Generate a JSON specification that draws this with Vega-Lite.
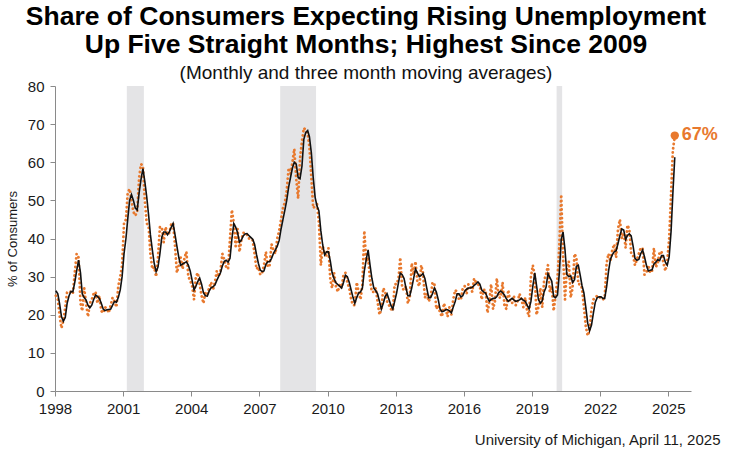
{
"$schema":"https://vega.github.io/schema/vega-lite/v6.json",
"width":636,"height":305,
"autosize":{"type":"none"},
"padding":{"left":55,"top":86,"right":39,"bottom":62},
"background":"white",
"config":{"font":"Liberation Sans","view":{"stroke":null},
 "axisY":{"values":[0,10,20,30,40,50,60,70,80],"labelFontSize":15,"labelColor":"#1a1a1a","labelPadding":6,"labelOverlap":false,"labelFlush":false,"domainColor":"#8a8a8a","tickColor":"#8a8a8a","tickSize":5,"grid":false,"titleFontSize":13,"titleFontWeight":"normal","titleColor":"#1a1a1a","titlePadding":8}},
"title":{"text":["Share of Consumers Expecting Rising Unemployment","Up Five Straight Months; Highest Since 2009"],"subtitle":"(Monthly and three month moving averages)","fontSize":26.5,"fontWeight":"bold","color":"#000000","lineHeight":28,"subtitleFontSize":19,"subtitleColor":"#111111","subtitlePadding":6,"anchor":"middle","dx":-7,"offset":-4},
"datasets":{
"rec":[{"s":"2001-03-01","e":"2001-11-30"},{"s":"2007-12-01","e":"2009-06-30"},{"s":"2020-02-01","e":"2020-04-30"}],
"last":[{"d":"2025-04-15","m":67,"label":"67%"}],
"s":[
{"d":"1998-01-15","m":25,"a":26.3},{"d":"1998-02-15","m":24,"a":25.5},{"d":"1998-03-15","m":20,"a":23},{"d":"1998-04-15","m":16.5,"a":19.5},{"d":"1998-05-15","m":18.5,"a":18.3},{"d":"1998-06-15","m":22,"a":19.3},{"d":"1998-07-15","m":26,"a":23},{"d":"1998-08-15","m":26,"a":25},{"d":"1998-09-15","m":26,"a":26.1},{"d":"1998-10-15","m":25.5,"a":26},{"d":"1998-11-15","m":31,"a":28.5},{"d":"1998-12-15","m":36,"a":31.5},
{"d":"1999-01-15","m":35,"a":34.3},{"d":"1999-02-15","m":23,"a":31},{"d":"1999-03-15","m":21,"a":25.5},{"d":"1999-04-15","m":27,"a":24.5},{"d":"1999-05-15","m":23,"a":23.9},{"d":"1999-06-15","m":19.5,"a":22.5},{"d":"1999-07-15","m":23,"a":21.8},{"d":"1999-08-15","m":24,"a":22.5},{"d":"1999-09-15","m":25.5,"a":24},{"d":"1999-10-15","m":26,"a":25.2},{"d":"1999-11-15","m":23,"a":24.8},{"d":"1999-12-15","m":25,"a":24.3},
{"d":"2000-01-15","m":21,"a":23},{"d":"2000-02-15","m":20.5,"a":21.5},{"d":"2000-03-15","m":22,"a":21.1},{"d":"2000-04-15","m":21.5,"a":21.3},{"d":"2000-05-15","m":20.5,"a":21.4},{"d":"2000-06-15","m":22.5,"a":21.5},{"d":"2000-07-15","m":24.5,"a":22.5},{"d":"2000-08-15","m":23.5,"a":23.5},{"d":"2000-09-15","m":22,"a":23.3},{"d":"2000-10-15","m":27.5,"a":24.5},{"d":"2000-11-15","m":30,"a":26.5},{"d":"2000-12-15","m":33,"a":30},
{"d":"2001-01-15","m":44,"a":36},{"d":"2001-02-15","m":45,"a":40},{"d":"2001-03-15","m":52,"a":45},{"d":"2001-04-15","m":53,"a":50},{"d":"2001-05-15","m":50,"a":51.5},{"d":"2001-06-15","m":47,"a":50},{"d":"2001-07-15","m":46,"a":48},{"d":"2001-08-15","m":47,"a":47.5},{"d":"2001-09-15","m":56,"a":52},{"d":"2001-10-15","m":59.5,"a":55.5},{"d":"2001-11-15","m":59,"a":58.3},{"d":"2001-12-15","m":50,"a":55},
{"d":"2002-01-15","m":44,"a":50.9},{"d":"2002-02-15","m":43,"a":46},{"d":"2002-03-15","m":36,"a":41},{"d":"2002-04-15","m":32,"a":37},{"d":"2002-05-15","m":32.5,"a":33.5},{"d":"2002-06-15","m":30,"a":31.3},{"d":"2002-07-15","m":35,"a":32.5},{"d":"2002-08-15","m":43,"a":36},{"d":"2002-09-15","m":43,"a":40.4},{"d":"2002-10-15","m":39,"a":41.7},{"d":"2002-11-15","m":43,"a":41.7},{"d":"2002-12-15","m":41,"a":41},
{"d":"2003-01-15","m":41.5,"a":41.8},{"d":"2003-02-15","m":44,"a":43},{"d":"2003-03-15","m":44,"a":43.9},{"d":"2003-04-15","m":38,"a":41},{"d":"2003-05-15","m":31,"a":38},{"d":"2003-06-15","m":33,"a":35},{"d":"2003-07-15","m":35,"a":33},{"d":"2003-08-15","m":32,"a":33.3},{"d":"2003-09-15","m":35,"a":33.6},{"d":"2003-10-15","m":36.5,"a":33.9},{"d":"2003-11-15","m":30,"a":33},{"d":"2003-12-15","m":29,"a":31.5},
{"d":"2004-01-15","m":27.5,"a":29},{"d":"2004-02-15","m":24,"a":26.5},{"d":"2004-03-15","m":30,"a":27.5},{"d":"2004-04-15","m":31,"a":28.7},{"d":"2004-05-15","m":28,"a":29.6},{"d":"2004-06-15","m":25,"a":28},{"d":"2004-07-15","m":23,"a":25.8},{"d":"2004-08-15","m":26,"a":25},{"d":"2004-09-15","m":25.5,"a":24.9},{"d":"2004-10-15","m":27,"a":26.2},{"d":"2004-11-15","m":28.5,"a":27.1},{"d":"2004-12-15","m":26.5,"a":27.3},
{"d":"2005-01-15","m":28.5,"a":27.8},{"d":"2005-02-15","m":31.5,"a":29},{"d":"2005-03-15","m":30,"a":30},{"d":"2005-04-15","m":31.5,"a":31},{"d":"2005-05-15","m":36,"a":32.8},{"d":"2005-06-15","m":34.5,"a":34},{"d":"2005-07-15","m":32.5,"a":34.3},{"d":"2005-08-15","m":32,"a":33.8},{"d":"2005-09-15","m":40,"a":34.8},{"d":"2005-10-15","m":47.5,"a":39.8},{"d":"2005-11-15","m":44,"a":43.9},{"d":"2005-12-15","m":38,"a":43},
{"d":"2006-01-15","m":42.5,"a":41.5},{"d":"2006-02-15","m":36.5,"a":39},{"d":"2006-03-15","m":39.5,"a":39.5},{"d":"2006-04-15","m":41.5,"a":40.7},{"d":"2006-05-15","m":41.5,"a":41.2},{"d":"2006-06-15","m":41,"a":41.3},{"d":"2006-07-15","m":40,"a":40.8},{"d":"2006-08-15","m":40,"a":40.3},{"d":"2006-09-15","m":39.5,"a":39.8},{"d":"2006-10-15","m":36,"a":38.5},{"d":"2006-11-15","m":32,"a":35.8},{"d":"2006-12-15","m":32.5,"a":33.5},
{"d":"2007-01-15","m":30.5,"a":31.7},{"d":"2007-02-15","m":31,"a":31.3},{"d":"2007-03-15","m":33,"a":31.5},{"d":"2007-04-15","m":36.5,"a":33.2},{"d":"2007-05-15","m":32.5,"a":33.9},{"d":"2007-06-15","m":33,"a":33.9},{"d":"2007-07-15","m":38.5,"a":34.8},{"d":"2007-08-15","m":37,"a":36.1},{"d":"2007-09-15","m":36,"a":37},{"d":"2007-10-15","m":40,"a":38},{"d":"2007-11-15","m":42,"a":39.5},{"d":"2007-12-15","m":45,"a":42.5},
{"d":"2008-01-15","m":48,"a":45},{"d":"2008-02-15","m":49.5,"a":47.5},{"d":"2008-03-15","m":52.5,"a":50},{"d":"2008-04-15","m":58.5,"a":53.5},{"d":"2008-05-15","m":57,"a":56},{"d":"2008-06-15","m":60,"a":58.5},{"d":"2008-07-15","m":63.5,"a":60},{"d":"2008-08-15","m":55.5,"a":59.5},{"d":"2008-09-15","m":50.5,"a":56},{"d":"2008-10-15","m":61,"a":55.7},{"d":"2008-11-15","m":65.5,"a":59},{"d":"2008-12-15","m":69,"a":66},
{"d":"2009-01-15","m":68.5,"a":67.8},{"d":"2009-02-15","m":67.5,"a":68.3},{"d":"2009-03-15","m":64,"a":66.7},{"d":"2009-04-15","m":56,"a":62.5},{"d":"2009-05-15","m":48,"a":56},{"d":"2009-06-15","m":48.5,"a":50.8},{"d":"2009-07-15","m":49,"a":48.5},{"d":"2009-08-15","m":44,"a":47.2},{"d":"2009-09-15","m":33,"a":42},{"d":"2009-10-15","m":38,"a":38.3},{"d":"2009-11-15","m":36,"a":35.7},{"d":"2009-12-15","m":35.5,"a":36.5},
{"d":"2010-01-15","m":37.5,"a":36.5},{"d":"2010-02-15","m":29,"a":34},{"d":"2010-03-15","m":27,"a":31},{"d":"2010-04-15","m":31,"a":29.5},{"d":"2010-05-15","m":27.5,"a":28.4},{"d":"2010-06-15","m":26,"a":27.9},{"d":"2010-07-15","m":28,"a":27.5},{"d":"2010-08-15","m":27,"a":27},{"d":"2010-09-15","m":30.5,"a":28.5},{"d":"2010-10-15","m":31,"a":30.4},{"d":"2010-11-15","m":28.5,"a":30},{"d":"2010-12-15","m":27,"a":28.5},
{"d":"2011-01-15","m":24,"a":26.5},{"d":"2011-02-15","m":22.5,"a":24.5},{"d":"2011-03-15","m":22.5,"a":23},{"d":"2011-04-15","m":28.5,"a":24.5},{"d":"2011-05-15","m":26,"a":25.7},{"d":"2011-06-15","m":24,"a":26},{"d":"2011-07-15","m":28,"a":27},{"d":"2011-08-15","m":42,"a":31.5},{"d":"2011-09-15","m":34,"a":34.5},{"d":"2011-10-15","m":35,"a":37},{"d":"2011-11-15","m":29,"a":33},{"d":"2011-12-15","m":26,"a":29.5},
{"d":"2012-01-15","m":26,"a":27},{"d":"2012-02-15","m":27,"a":26.3},{"d":"2012-03-15","m":23.5,"a":25.5},{"d":"2012-04-15","m":20,"a":23.5},{"d":"2012-05-15","m":21.5,"a":21.5},{"d":"2012-06-15","m":27,"a":23},{"d":"2012-07-15","m":26,"a":24.8},{"d":"2012-08-15","m":23.5,"a":25.5},{"d":"2012-09-15","m":22.5,"a":24},{"d":"2012-10-15","m":21.5,"a":22.5},{"d":"2012-11-15","m":21,"a":21.5},{"d":"2012-12-15","m":28,"a":23.5},
{"d":"2013-01-15","m":28,"a":25.7},{"d":"2013-02-15","m":29.5,"a":28.5},{"d":"2013-03-15","m":35,"a":30.9},{"d":"2013-04-15","m":27,"a":30.5},{"d":"2013-05-15","m":26.5,"a":29.5},{"d":"2013-06-15","m":27.5,"a":27},{"d":"2013-07-15","m":23,"a":25},{"d":"2013-08-15","m":24.5,"a":25},{"d":"2013-09-15","m":33.5,"a":27},{"d":"2013-10-15","m":30.5,"a":29.5},{"d":"2013-11-15","m":34,"a":32},{"d":"2013-12-15","m":28.5,"a":31},
{"d":"2014-01-15","m":27.5,"a":30},{"d":"2014-02-15","m":33,"a":30.3},{"d":"2014-03-15","m":31,"a":30.8},{"d":"2014-04-15","m":24.5,"a":29.5},{"d":"2014-05-15","m":25.5,"a":27},{"d":"2014-06-15","m":23.5,"a":24.5},{"d":"2014-07-15","m":24.5,"a":24.5},{"d":"2014-08-15","m":28.5,"a":25.5},{"d":"2014-09-15","m":28,"a":27},{"d":"2014-10-15","m":21.5,"a":26},{"d":"2014-11-15","m":22.5,"a":24},{"d":"2014-12-15","m":20.5,"a":21.5},
{"d":"2015-01-15","m":19.5,"a":20.8},{"d":"2015-02-15","m":23,"a":21},{"d":"2015-03-15","m":21.5,"a":21.3},{"d":"2015-04-15","m":19.5,"a":21.3},{"d":"2015-05-15","m":22,"a":21},{"d":"2015-06-15","m":20,"a":20.5},{"d":"2015-07-15","m":24,"a":22},{"d":"2015-08-15","m":26.5,"a":23.5},{"d":"2015-09-15","m":26,"a":25.5},{"d":"2015-10-15","m":24,"a":25.5},{"d":"2015-11-15","m":24,"a":24.7},{"d":"2015-12-15","m":27,"a":25},
{"d":"2016-01-15","m":27.5,"a":26.2},{"d":"2016-02-15","m":25.5,"a":26.7},{"d":"2016-03-15","m":28,"a":27},{"d":"2016-04-15","m":27.5,"a":27},{"d":"2016-05-15","m":26,"a":27.2},{"d":"2016-06-15","m":29.5,"a":27.7},{"d":"2016-07-15","m":28.5,"a":28.1},{"d":"2016-08-15","m":28,"a":28.6},{"d":"2016-09-15","m":27.5,"a":28},{"d":"2016-10-15","m":24,"a":26.5},{"d":"2016-11-15","m":26.5,"a":26},{"d":"2016-12-15","m":26.5,"a":25.7},
{"d":"2017-01-15","m":20.5,"a":24.5},{"d":"2017-02-15","m":23.5,"a":23.5},{"d":"2017-03-15","m":28,"a":24},{"d":"2017-04-15","m":21.5,"a":24.3},{"d":"2017-05-15","m":23.5,"a":24.3},{"d":"2017-06-15","m":29.5,"a":24.8},{"d":"2017-07-15","m":24.5,"a":25.8},{"d":"2017-08-15","m":24.5,"a":26.2},{"d":"2017-09-15","m":28.5,"a":25.8},{"d":"2017-10-15","m":22.5,"a":25.2},{"d":"2017-11-15","m":21.5,"a":24.2},{"d":"2017-12-15","m":26.5,"a":23.5},
{"d":"2018-01-15","m":23.5,"a":23.9},{"d":"2018-02-15","m":23,"a":24.3},{"d":"2018-03-15","m":25,"a":23.9},{"d":"2018-04-15","m":22.5,"a":23.5},{"d":"2018-05-15","m":23.5,"a":23.7},{"d":"2018-06-15","m":25.5,"a":23.9},{"d":"2018-07-15","m":24,"a":24.3},{"d":"2018-08-15","m":22,"a":23.8},{"d":"2018-09-15","m":24.5,"a":23.5},{"d":"2018-10-15","m":21,"a":22.5},{"d":"2018-11-15","m":19.5,"a":21.5},{"d":"2018-12-15","m":30,"a":23.5},
{"d":"2019-01-15","m":33,"a":27.5},{"d":"2019-02-15","m":30,"a":31},{"d":"2019-03-15","m":20,"a":27.7},{"d":"2019-04-15","m":22,"a":24},{"d":"2019-05-15","m":27,"a":23},{"d":"2019-06-15","m":22,"a":23.7},{"d":"2019-07-15","m":29,"a":26},{"d":"2019-08-15","m":30.5,"a":27.2},{"d":"2019-09-15","m":33,"a":30.8},{"d":"2019-10-15","m":26,"a":29.8},{"d":"2019-11-15","m":27.5,"a":28.8},{"d":"2019-12-15","m":21,"a":24.8},
{"d":"2020-01-15","m":25,"a":24.5},{"d":"2020-02-15","m":29.5,"a":25.2},{"d":"2020-03-15","m":38,"a":30.8},{"d":"2020-04-15","m":51.5,"a":39.7},{"d":"2020-05-15","m":35.5,"a":41.7},{"d":"2020-06-15","m":24,"a":37},{"d":"2020-07-15","m":32,"a":30.5},{"d":"2020-08-15","m":34,"a":30},{"d":"2020-09-15","m":24.5,"a":30.2},{"d":"2020-10-15","m":27,"a":28.5},{"d":"2020-11-15","m":36,"a":29.2},{"d":"2020-12-15","m":35,"a":32.7},
{"d":"2021-01-15","m":28,"a":33},{"d":"2021-02-15","m":28,"a":30.3},{"d":"2021-03-15","m":27,"a":27.7},{"d":"2021-04-15","m":22,"a":25.7},{"d":"2021-05-15","m":17,"a":22},{"d":"2021-06-15","m":14.5,"a":17.8},{"d":"2021-07-15","m":16,"a":15.8},{"d":"2021-08-15","m":21.5,"a":17.3},{"d":"2021-09-15","m":24,"a":20.5},{"d":"2021-10-15","m":24.5,"a":23.3},{"d":"2021-11-15","m":25,"a":24.5},{"d":"2021-12-15","m":24.5,"a":24.7},
{"d":"2022-01-15","m":24.5,"a":24.7},{"d":"2022-02-15","m":24,"a":24.3},{"d":"2022-03-15","m":24.5,"a":24.3},{"d":"2022-04-15","m":33.5,"a":27.3},{"d":"2022-05-15","m":36,"a":31.3},{"d":"2022-06-15","m":34,"a":34.5},{"d":"2022-07-15","m":37,"a":35.7},{"d":"2022-08-15","m":38.5,"a":36.5},{"d":"2022-09-15","m":35,"a":36.8},{"d":"2022-10-15","m":42.5,"a":38.7},{"d":"2022-11-15","m":45,"a":40.8},{"d":"2022-12-15","m":40,"a":42.5},
{"d":"2023-01-15","m":41.5,"a":42.2},{"d":"2023-02-15","m":37.5,"a":39.7},{"d":"2023-03-15","m":43.5,"a":40.8},{"d":"2023-04-15","m":42.5,"a":41.2},{"d":"2023-05-15","m":36,"a":40.7},{"d":"2023-06-15","m":35.5,"a":38},{"d":"2023-07-15","m":33,"a":34.8},{"d":"2023-08-15","m":34.5,"a":34.3},{"d":"2023-09-15","m":36,"a":34.5},{"d":"2023-10-15","m":37.5,"a":36},{"d":"2023-11-15","m":37.5,"a":37},{"d":"2023-12-15","m":30.5,"a":35.2},
{"d":"2024-01-15","m":31,"a":33},{"d":"2024-02-15","m":33,"a":31.5},{"d":"2024-03-15","m":31,"a":31.7},{"d":"2024-04-15","m":31.5,"a":31.8},{"d":"2024-05-15","m":37.5,"a":33.3},{"d":"2024-06-15","m":32.5,"a":33.8},{"d":"2024-07-15","m":33.5,"a":34.5},{"d":"2024-08-15","m":36.5,"a":34.2},{"d":"2024-09-15","m":36.5,"a":35.5},{"d":"2024-10-15","m":33.5,"a":35.5},{"d":"2024-11-15","m":31.5,"a":33.8},{"d":"2024-12-15","m":34,"a":33},
{"d":"2025-01-15","m":40,"a":35.2},{"d":"2025-02-15","m":52,"a":42},{"d":"2025-03-15","m":63,"a":51.7},{"d":"2025-04-15","m":67,"a":61.3}
]},
"layer":[
{"data":{"name":"rec"},"mark":{"type":"rect","color":"#E4E4E6"},
 "encoding":{
  "x":{"field":"s","type":"temporal","scale":{"domain":["1998-01-01","2026-01-01"]},"title":"University of Michigan, April 11, 2025",
   "axis":{"values":[{"year":1998},{"year":2001},{"year":2004},{"year":2007},{"year":2010},{"year":2013},{"year":2016},{"year":2019},{"year":2022},{"year":2025}],"format":"%Y","labelFontSize":15,"labelColor":"#1a1a1a","labelPadding":5,"labelFlush":false,"labelOverlap":false,"domainColor":"#8a8a8a","tickColor":"#8a8a8a","tickSize":5,"grid":false,"titleFontSize":15,"titleFontWeight":"normal","titleColor":"#1a1a1a","titleAnchor":"end","titleAlign":"right","titleBaseline":"alphabetic","titleX":665,"titleY":53}},
  "x2":{"field":"e"}}},
{"data":{"name":"s"},"mark":{"type":"line","color":"#E8792E","strokeWidth":2.8,"strokeDash":[0.1,4.2],"strokeCap":"round","strokeJoin":"round"},
 "encoding":{
  "x":{"field":"d","type":"temporal","scale":{"domain":["1998-01-01","2026-01-01"]},"title":"University of Michigan, April 11, 2025"},
  "y":{"field":"m","type":"quantitative","scale":{"domain":[0,80],"nice":false},"title":"% of Consumers","axis":{"values":[0,10,20,30,40,50,60,70,80]}}}},
{"data":{"name":"s"},"mark":{"type":"line","color":"#111111","strokeWidth":1.6},
 "encoding":{
  "x":{"field":"d","type":"temporal","scale":{"domain":["1998-01-01","2026-01-01"]},"title":"University of Michigan, April 11, 2025"},
  "y":{"field":"a","type":"quantitative","scale":{"domain":[0,80],"nice":false},"title":"% of Consumers","axis":{"values":[0,10,20,30,40,50,60,70,80]}}}},
{"data":{"name":"last"},"mark":{"type":"point","filled":true,"opacity":1,"color":"#E8792E","size":70},
 "encoding":{
  "x":{"field":"d","type":"temporal","scale":{"domain":["1998-01-01","2026-01-01"]},"title":"University of Michigan, April 11, 2025"},
  "y":{"field":"m","type":"quantitative","scale":{"domain":[0,80],"nice":false},"title":"% of Consumers","axis":{"values":[0,10,20,30,40,50,60,70,80]}}}},
{"data":{"name":"last"},"mark":{"type":"text","color":"#E8792E","fontSize":18,"fontWeight":"bold","align":"left","baseline":"middle","dx":7,"dy":-1},
 "encoding":{
  "x":{"field":"d","type":"temporal","scale":{"domain":["1998-01-01","2026-01-01"]},"title":"University of Michigan, April 11, 2025"},
  "y":{"field":"m","type":"quantitative","scale":{"domain":[0,80],"nice":false},"title":"% of Consumers","axis":{"values":[0,10,20,30,40,50,60,70,80]}},
  "text":{"field":"label"}}}
]
}
